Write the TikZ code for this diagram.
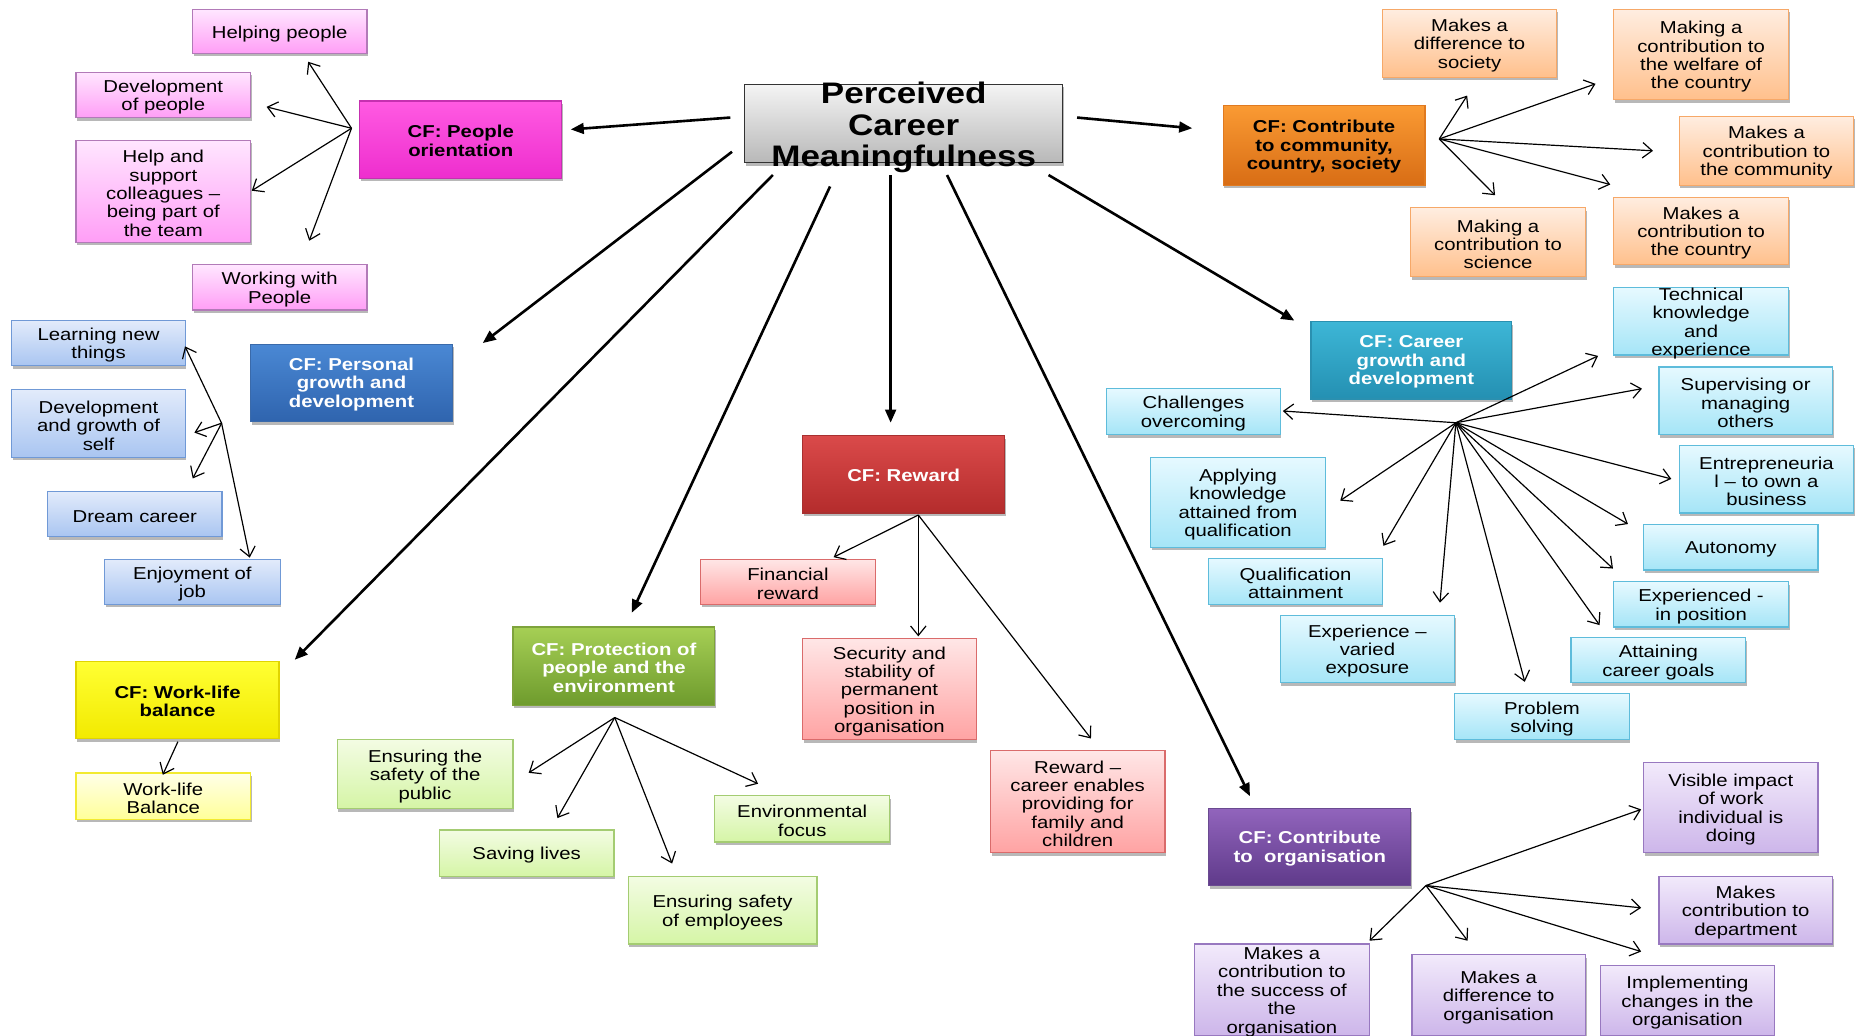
\documentclass[tikz,border=0pt]{standalone}
\usepackage{fontspec}
\setmainfont{Liberation Sans}[FakeStretch=1.18]
\usetikzlibrary{arrows.meta,shadows,fit}

\definecolor{cT}{HTML}{F4F4F4}\definecolor{cB}{HTML}{B8B8B8}\definecolor{cE}{HTML}{333333}
\definecolor{pkCT}{HTML}{FF5AE2}\definecolor{pkCB}{HTML}{EE2ECE}\definecolor{pkCE}{HTML}{C530B0}
\definecolor{pkLT}{HTML}{FFE6FF}\definecolor{pkLB}{HTML}{FF9EF6}\definecolor{pkLE}{HTML}{B27AB8}
\definecolor{blCT}{HTML}{4A88D4}\definecolor{blCB}{HTML}{2F64AE}\definecolor{blCE}{HTML}{3A6AAA}
\definecolor{blLT}{HTML}{E2EBFB}\definecolor{blLB}{HTML}{A9C5F1}\definecolor{blLE}{HTML}{7099D6}
\definecolor{yeCT}{HTML}{FFFF33}\definecolor{yeCB}{HTML}{F2EA00}\definecolor{yeCE}{HTML}{E0D400}
\definecolor{yeLT}{HTML}{FFFFE8}\definecolor{yeLB}{HTML}{FFFF99}\definecolor{yeLE}{HTML}{F2EA30}
\definecolor{grCT}{HTML}{A6CF55}\definecolor{grCB}{HTML}{6E9B2D}\definecolor{grCE}{HTML}{7EA33C}
\definecolor{grLT}{HTML}{F3FCE3}\definecolor{grLB}{HTML}{D5F5A6}\definecolor{grLE}{HTML}{A4CC72}
\definecolor{rdCT}{HTML}{DA4A4A}\definecolor{rdCB}{HTML}{B42C2C}\definecolor{rdCE}{HTML}{A83030}
\definecolor{rdLT}{HTML}{FFE6E6}\definecolor{rdLB}{HTML}{FFA3A3}\definecolor{rdLE}{HTML}{DA6B6B}
\definecolor{orCT}{HTML}{FA9A33}\definecolor{orCB}{HTML}{D86D15}\definecolor{orCE}{HTML}{E07A20}
\definecolor{orLT}{HTML}{FFEDE0}\definecolor{orLB}{HTML}{FFC08C}\definecolor{orLE}{HTML}{F6A868}
\definecolor{cyCT}{HTML}{3DB6D6}\definecolor{cyCB}{HTML}{2490B2}\definecolor{cyCE}{HTML}{2A90B0}
\definecolor{cyLT}{HTML}{E6F9FF}\definecolor{cyLB}{HTML}{A5E5F7}\definecolor{cyLE}{HTML}{5EBCDB}
\definecolor{puCT}{HTML}{9164BC}\definecolor{puCB}{HTML}{5F3A8A}\definecolor{puCE}{HTML}{6A4A90}
\definecolor{puLT}{HTML}{F2EAFB}\definecolor{puLB}{HTML}{CDB6EA}\definecolor{puLE}{HTML}{9878C0}

\tikzset{
  basebox/.style={draw, line width=1pt, inner sep=0pt,
    drop shadow={shadow xshift=1pt, shadow yshift=-2.5pt, opacity=.28, fill=black}},
  central/.style={basebox, draw=cE, top color=cT, bottom color=cB},
  grp/.style n args={3}{basebox, draw=#3, top color=#1, bottom color=#2},
  pkC/.style={grp={pkCT}{pkCB}{pkCE}}, pkL/.style={grp={pkLT}{pkLB}{pkLE}},
  blC/.style={grp={blCT}{blCB}{blCE}}, blL/.style={grp={blLT}{blLB}{blLE}},
  yeC/.style={grp={yeCT}{yeCB}{yeCE}}, yeL/.style={grp={yeLT}{yeLB}{yeLE}},
  grC/.style={grp={grCT}{grCB}{grCE}}, grL/.style={grp={grLT}{grLB}{grLE}},
  rdC/.style={grp={rdCT}{rdCB}{rdCE}}, rdL/.style={grp={rdLT}{rdLB}{rdLE}},
  orC/.style={grp={orCT}{orCB}{orCE}}, orL/.style={grp={orLT}{orLB}{orLE}},
  cyC/.style={grp={cyCT}{cyCB}{cyCE}}, cyL/.style={grp={cyLT}{cyLB}{cyLE}},
  puC/.style={grp={puCT}{puCB}{puCE}}, puL/.style={grp={puLT}{puLB}{puLE}},
  lt/.style={align=center, inner sep=0pt, text=black, yshift=-1.8pt, font=\fontsize{14.5}{15.5}\selectfont},
  cfb/.style={align=center, inner sep=0pt, text=black, yshift=-1.2pt, font=\bfseries\fontsize{14.5}{15.5}\selectfont},
  cfw/.style={cfb, text=white},
  title/.style={align=center, inner sep=0pt, text=black, yshift=-3.5pt, font=\bfseries\fontsize{25}{26.5}\selectfont},
  mainarr/.style={line width=2.2pt, -{Triangle[length=11pt,width=9pt]}},
  thinarr/.style={line width=1pt, -{Straight Barb[length=8pt,width=13pt]}},
}

% box style, text style, name, x1, y1, x2, y2, text
\newcommand\cmbox[8]{%
  \coordinate (#3-nw) at (#4,#5);
  \coordinate (#3-se) at (#6,#7);
  \node[#1, fit=(#3-nw)(#3-se)] (#3) {};
  \node[#2] (#3-t) at (#3.center) {#8};
}

\begin{document}
\begin{tikzpicture}[x=1pt,y=-1pt]
\fill[white] (0,0) rectangle (1568,872);
\useasboundingbox (0,0) rectangle (1568,872);

% central
\cmbox{central}{title}{pcm}{627}{71}{895}{137}{Perceived\\Career\\Meaningfulness}

% CF boxes
\cmbox{pkC}{cfb}{cfpeople}{303}{85}{473}{150}{CF: People\\orientation}
\cmbox{orC}{cfb}{cfcomm}{1030}{89}{1200}{156}{CF: Contribute\\to community,\\country, society}
\cmbox{blC}{cfw}{cfpers}{211}{290}{381}{355}{CF: Personal\\growth and\\development}
\cmbox{cyC}{cfw}{cfcareer}{1104}{271}{1273}{336}{CF: Career\\growth and\\development}
\cmbox{rdC}{cfw}{cfreward}{676}{367}{846}{432}{CF: Reward}
\cmbox{yeC}{cfb}{cfwl}{64}{557}{235}{622}{CF: Work-life\\balance}
\cmbox{grC}{cfw}{cfprot}{432}{528}{602}{594}{CF: Protection of\\people and the\\environment}
\cmbox{puC}{cfw}{cforg}{1018}{681}{1188}{746}{CF: Contribute\\to\ \ organisation}

% pink leaves
\cmbox{pkL}{lt}{hp}{162}{8}{309}{45}{Helping people}
\cmbox{pkL}{lt}{dp}{64}{61}{211}{99}{Development\\of people}
\cmbox{pkL}{lt}{hs}{64}{118}{211}{204}{Help and\\support\\colleagues –\\being part of\\the team}
\cmbox{pkL}{lt}{wp}{162}{223}{309}{261}{Working with\\People}

% blue leaves
\cmbox{blL}{lt}{ln}{10}{270}{156}{308}{Learning new\\things}
\cmbox{blL}{lt}{dg}{10}{328}{156}{385}{Development\\and growth of\\self}
\cmbox{blL}{lt}{dc}{40}{414}{187}{452}{Dream career}
\cmbox{blL}{lt}{ej}{88}{471}{236}{509}{Enjoyment of\\job}

% yellow leaf
\cmbox{yeL}{lt}{wlb}{64}{651}{211}{690}{Work-life\\Balance}

% green leaves
\cmbox{grL}{lt}{esp}{284}{623}{432}{681}{Ensuring the\\safety of the\\public}
\cmbox{grL}{lt}{sl}{370}{699}{517}{738}{Saving lives}
\cmbox{grL}{lt}{ese}{529}{738}{688}{795}{Ensuring safety\\of employees}
\cmbox{grL}{lt}{ef}{602}{670}{749}{709}{Environmental\\focus}

% red leaves
\cmbox{rdL}{lt}{fr}{590}{471}{737}{509}{Financial\\reward}
\cmbox{rdL}{lt}{ss}{676}{538}{822}{623}{Security and\\stability of\\permanent\\position in\\organisation}
\cmbox{rdL}{lt}{rc}{834}{632}{981}{718}{Reward –\\career enables\\providing for\\family and\\children}

% orange leaves
\cmbox{orL}{lt}{mds}{1164}{8}{1311}{65}{Makes a\\difference to\\society}
\cmbox{orL}{lt}{mcw}{1359}{8}{1506}{84}{Making a\\contribution to\\the welfare of\\the country}
\cmbox{orL}{lt}{mcc}{1414}{98}{1561}{156}{Makes a\\contribution to\\the community}
\cmbox{orL}{lt}{mcs}{1188}{175}{1335}{233}{Making a\\contribution to\\science}
\cmbox{orL}{lt}{mcy}{1359}{166}{1506}{223}{Makes a\\contribution to\\the country}

% cyan leaves
\cmbox{cyL}{lt}{tk}{1359}{242}{1506}{299}{Technical\\knowledge\\and\\experience}
\cmbox{cyL}{lt}{sm}{1397}{309}{1543}{366}{Supervising or\\managing\\others}
\cmbox{cyL}{lt}{en}{1414}{375}{1561}{432}{Entrepreneuria\\l – to own a\\business}
\cmbox{cyL}{lt}{au}{1384}{442}{1531}{480}{Autonomy}
\cmbox{cyL}{lt}{ep}{1359}{490}{1506}{528}{Experienced -\\in position}
\cmbox{cyL}{lt}{ag}{1323}{537}{1470}{575}{Attaining\\career goals}
\cmbox{cyL}{lt}{ps}{1225}{584}{1372}{623}{Problem\\solving}
\cmbox{cyL}{lt}{ev}{1078}{518}{1225}{575}{Experience –\\varied\\exposure}
\cmbox{cyL}{lt}{qa}{1018}{470}{1164}{509}{Qualification\\attainment}
\cmbox{cyL}{lt}{ak}{969}{385}{1116}{461}{Applying\\knowledge\\attained from\\qualification}
\cmbox{cyL}{lt}{co}{932}{327}{1078}{366}{Challenges\\overcoming}

% purple leaves
\cmbox{puL}{lt}{vi}{1384}{642}{1531}{718}{Visible impact\\of work\\individual is\\doing}
\cmbox{puL}{lt}{mcd}{1397}{738}{1543}{795}{Makes\\contribution to\\department}
\cmbox{puL}{lt}{mss}{1006}{795}{1153}{872}{Makes a\\contribution to\\the success of\\the\\organisation}
\cmbox{puL}{lt}{mdo}{1189}{804}{1335}{872}{Makes a\\difference to\\organisation}
\cmbox{puL}{lt}{ico}{1348}{813}{1494}{872}{Implementing\\changes in the\\organisation}

% ---- main arrows
\coordinate (s-people) at (615,99);    \coordinate (e-people) at (480.6,109);
\coordinate (s-comm) at (907,99);      \coordinate (e-comm) at (1004,108);
\coordinate (s-pers) at (616.4,127.8); \coordinate (e-pers) at (406.5,288.9);
\coordinate (s-wl) at (650.8,147.4);   \coordinate (e-wl) at (248.2,555.6);
\coordinate (s-prot) at (699,157);     \coordinate (e-prot) at (532,516);
\coordinate (s-reward) at (750,147.4); \coordinate (e-reward) at (750,356);
\coordinate (s-org) at (797.5,147.4);  \coordinate (e-org) at (1052.6,670.5);
\coordinate (s-career) at (883,147.4); \coordinate (e-career) at (1090,270);
\foreach \n in {people,comm,pers,wl,prot,reward,org,career}
  \draw[mainarr] (s-\n) -- (e-\n);

% ---- pink
\coordinate (h-pink) at (296,108);
\coordinate (t-hp) at (259.5,52);
\coordinate (t-dp) at (224.5,90);
\coordinate (t-hs) at (212,160.6);
\coordinate (t-wp) at (260.4,202.7);
\foreach \n in {hp,dp,hs,wp} \draw[thinarr] (h-pink) -- (t-\n);

% ---- blue
\coordinate (h-blue) at (186.6,356.4);
\coordinate (t-ln) at (155.8,291.7);
\coordinate (t-dg) at (163.7,364.3);
\coordinate (t-dc) at (162.3,402.9);
\coordinate (t-ej) at (210.3,469.6);
\foreach \n in {ln,dg,dc,ej} \draw[thinarr] (h-blue) -- (t-\n);

% ---- yellow
\coordinate (h-yel) at (149.8,624.6);
\coordinate (t-wlb) at (137.1,652.4);
\draw[thinarr] (h-yel) -- (t-wlb);

% ---- green
\coordinate (h-green) at (517.7,604.2);
\coordinate (t-esp) at (445.2,650.8);
\coordinate (t-sl) at (469.4,688.9);
\coordinate (t-ese) at (566,727.2);
\coordinate (t-ef) at (638.4,660);
\foreach \n in {esp,sl,ese,ef} \draw[thinarr] (h-green) -- (t-\n);

% ---- red
\coordinate (h-red) at (773.3,433.7);
\coordinate (t-fr) at (702,469.2);
\coordinate (t-ss) at (773.3,535.9);
\coordinate (t-rc) at (918.7,621.9);
\foreach \n in {fr,ss,rc} \draw[thinarr] (h-red) -- (t-\n);

% ---- orange
\coordinate (h-orange) at (1212,117);
\coordinate (t-mds) at (1235.5,80.5);
\coordinate (t-mcw) at (1343.6,70.6);
\coordinate (t-mcc) at (1392,127);
\coordinate (t-mcy) at (1356,155.4);
\coordinate (t-mcs) at (1259,164.4);
\foreach \n in {mds,mcw,mcc,mcy,mcs} \draw[thinarr] (h-orange) -- (t-\n);

% ---- cyan
\coordinate (h-cyan) at (1226,356);
\coordinate (t-tk) at (1345.7,299.7);
\coordinate (t-sm) at (1382.7,327.3);
\coordinate (t-en) at (1407.4,403.3);
\coordinate (t-au) at (1370.9,441.3);
\coordinate (t-ep) at (1358.3,478.8);
\coordinate (t-ag) at (1347,526.4);
\coordinate (t-ps) at (1284,574.2);
\coordinate (t-ev) at (1212.6,507.5);
\coordinate (t-qa) at (1165,459.6);
\coordinate (t-ak) at (1128.6,421.6);
\coordinate (t-co) at (1080.3,346.1);
\foreach \n in {tk,sm,en,au,ep,ag,ps,ev,qa,ak,co} \draw[thinarr] (h-cyan) -- (t-\n);

% ---- purple
\coordinate (h-purple) at (1200.8,745.7);
\coordinate (t-vi) at (1382,681.6);
\coordinate (t-mcd) at (1382,764.5);
\coordinate (t-ico) at (1382,801.3);
\coordinate (t-mdo) at (1235.9,792.2);
\coordinate (t-mss) at (1153.3,792.2);
\foreach \n in {vi,mcd,ico,mdo,mss} \draw[thinarr] (h-purple) -- (t-\n);
\end{tikzpicture}
\end{document}
